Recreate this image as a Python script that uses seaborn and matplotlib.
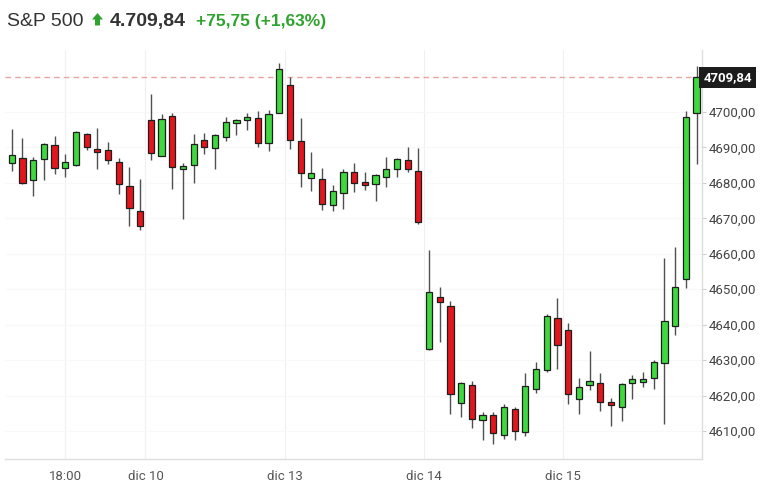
import pandas as pd
import matplotlib.pyplot as plt
import seaborn as sns
from matplotlib.ticker import FuncFormatter
from matplotlib import transforms
from matplotlib.patches import Polygon

# velas de 30 minutos, dic 9 -> dic 15
apertura = [4685.6, 4687.1, 4680.7, 4686.7, 4690.7, 4684.2, 4685.1, 4693.8, 4689.6, 4689.3, 4685.8, 4679.0, 4672.0,
            4697.7, 4687.7, 4698.8, 4683.8, 4685.0, 4692.1, 4689.9, 4693.0, 4696.9, 4697.7, 4698.4, 4691.3, 4699.8,
            4707.6, 4691.7, 4681.5, 4681.1, 4673.7, 4677.2, 4683.0, 4680.2, 4679.6, 4681.7, 4683.9, 4686.5, 4683.3,
            4633.1, 4647.7, 4645.3, 4618.0, 4623.0, 4613.0, 4614.5, 4608.8, 4616.2, 4609.8, 4621.8, 4627.3, 4642.0,
            4638.5, 4619.0, 4622.9, 4623.6, 4618.1, 4616.8, 4623.5, 4623.9, 4624.9, 4629.2, 4639.7, 4652.8, 4699.8]
maximo = [4695.2, 4692.7, 4687.3, 4691.3, 4693.1, 4688.1, 4694.5, 4694.0, 4695.4, 4691.6, 4687.0, 4684.6, 4681.1,
          4705.1, 4699.4, 4699.8, 4685.5, 4693.8, 4694.2, 4693.7, 4698.7, 4698.0, 4699.8, 4700.4, 4700.5, 4713.7,
          4709.8, 4698.2, 4688.6, 4684.2, 4679.3, 4683.8, 4685.6, 4683.1, 4682.6, 4687.4, 4687.0, 4690.2, 4689.8,
          4661.1, 4650.7, 4646.8, 4623.8, 4624.2, 4615.3, 4615.4, 4617.6, 4616.8, 4626.4, 4629.5, 4643.0, 4647.5,
          4640.4, 4624.9, 4632.5, 4626.3, 4619.3, 4623.5, 4625.9, 4626.6, 4630.1, 4658.9, 4662.0, 4700.4, 4713.0]
minimo = [4683.3, 4679.8, 4676.2, 4680.8, 4682.5, 4681.6, 4684.8, 4689.3, 4684.0, 4685.4, 4676.9, 4667.7, 4666.8,
          4686.5, 4687.5, 4678.4, 4669.9, 4680.1, 4688.2, 4684.0, 4691.8, 4693.4, 4694.9, 4690.2, 4688.9, 4699.6,
          4689.6, 4678.8, 4677.7, 4672.3, 4672.0, 4672.7, 4677.3, 4678.0, 4674.8, 4678.8, 4681.7, 4683.2, 4668.4,
          4632.9, 4635.0, 4614.8, 4614.0, 4610.8, 4607.4, 4606.2, 4607.7, 4607.4, 4608.5, 4620.8, 4626.6, 4627.6,
          4617.7, 4614.9, 4621.6, 4615.5, 4611.4, 4612.7, 4619.1, 4622.5, 4621.8, 4612.0, 4637.0, 4650.3, 4685.3]
cierre = [4687.8, 4680.0, 4686.5, 4691.1, 4684.2, 4685.8, 4694.3, 4690.2, 4688.8, 4686.4, 4679.6, 4673.0, 4667.7,
          4688.5, 4698.0, 4684.6, 4684.7, 4691.1, 4690.2, 4693.5, 4697.1, 4697.7, 4698.7, 4691.3, 4699.5, 4712.1,
          4692.0, 4682.8, 4682.9, 4674.1, 4677.6, 4683.0, 4680.1, 4679.3, 4682.2, 4684.0, 4686.7, 4683.8, 4669.0,
          4649.1, 4646.5, 4620.4, 4623.6, 4613.4, 4614.5, 4609.5, 4616.7, 4610.1, 4622.7, 4627.6, 4642.4, 4634.2,
          4620.3, 4622.5, 4624.0, 4618.3, 4617.3, 4623.3, 4624.7, 4624.7, 4629.4, 4640.9, 4650.5, 4698.7, 4709.84]

ultimo = 4709.84
etiquetas_x = ['18:00', 'dic 10', 'dic 13', 'dic 14', 'dic 15']
posiciones_x = [5, 12.5, 25.5, 38.5, 51.5]
ticks_y = [4610, 4620, 4630, 4640, 4650, 4660, 4670, 4680, 4690, 4700]

df = pd.DataFrame({'apertura': apertura, 'maximo': maximo, 'minimo': minimo, 'cierre': cierre})
df['idx'] = range(len(df))
df['sube'] = df['cierre'] >= df['apertura']

sns.set_theme(style='white')
plt.rcParams['font.family'] = ['Roboto', 'DejaVu Sans']

verde = '#3fd83f'
rojo = '#e3161b'
verde_txt = '#2ea32e'

fig = plt.figure(figsize=(7.71, 4.94), dpi=100)
ax = fig.add_axes([5 / 771, 35 / 494, 697 / 771, 409 / 494])

ax.vlines(df['idx'], df['minimo'], df['maximo'], color='#505050', linewidth=1, zorder=2)
cuerpo = (df['cierre'] - df['apertura']).abs().clip(lower=0.4)
base = df[['apertura', 'cierre']].min(axis=1)
colores = [verde if s else rojo for s in df['sube']]
ax.bar(df['idx'], cuerpo, bottom=base, width=0.58, color=colores,
       edgecolor='#1e1e1e', linewidth=0.9, zorder=3)

ax.axhline(ultimo, color='#eba3a3', linewidth=1, dashes=(4, 3), zorder=1)

ax.set_xlim(-0.63, 64.51)
ax.set_ylim(4602.09, 4717.49)
ax.set_xticks(posiciones_x)
ax.set_xticklabels(etiquetas_x)
ax.set_yticks(ticks_y)
ax.yaxis.set_major_formatter(FuncFormatter(lambda v, p: f'{v:.2f}'.replace('.', ',')))
ax.yaxis.tick_right()

ax.tick_params(axis='y', direction='out', length=3, width=0.8, color='#cccccc', pad=2,
               labelsize=9.5, labelcolor='#444444')
ax.tick_params(axis='x', direction='out', length=4, width=0.8, color='#dddddd', pad=4,
               labelsize=9.5, labelcolor='#555555')

ax.grid(axis='x', color='#f0f0f0', linewidth=0.8)
ax.grid(axis='y', color='#f8f8f8', linewidth=0.8)
for lado in ['left', 'top']:
    ax.spines[lado].set_visible(False)
for lado in ['right', 'bottom']:
    ax.spines[lado].set_color('#dddddd')
    ax.spines[lado].set_linewidth(1)

trans = transforms.blended_transform_factory(ax.transAxes, ax.transData)
ax.text(1.002, ultimo, f'{ultimo:.2f}'.replace('.', ','), transform=trans, ha='left', va='center',
        fontsize=9.5, fontweight='bold', color='white',
        bbox=dict(boxstyle='square,pad=0.3', facecolor='#1c1c1c', edgecolor='none'))

fam = ['Liberation Sans', 'DejaVu Sans']
fig.text(7 / 771, 1 - 26 / 494, 'S&P 500', fontsize=14, color='#333333', family=fam, va='baseline')

# flecha verde de subida
flecha = [(92, 19.5), (97.5, 13), (103, 19.5), (100, 19.5), (100, 25.5), (95, 25.5), (95, 19.5)]
fig.patches.append(Polygon([(x / 771, 1 - y / 494) for x, y in flecha], closed=True,
                           facecolor=verde_txt, edgecolor='none', transform=fig.transFigure))

fig.text(110 / 771, 1 - 26 / 494, '4.709,84', fontsize=14, fontweight='bold', color='#333333',
         family=fam, va='baseline')
fig.text(196 / 771, 1 - 26 / 494, '+75,75 (+1,63%)', fontsize=12.5, fontweight='bold', color=verde_txt,
         family=fam, va='baseline')

fig.savefig('out.png', dpi=100)
